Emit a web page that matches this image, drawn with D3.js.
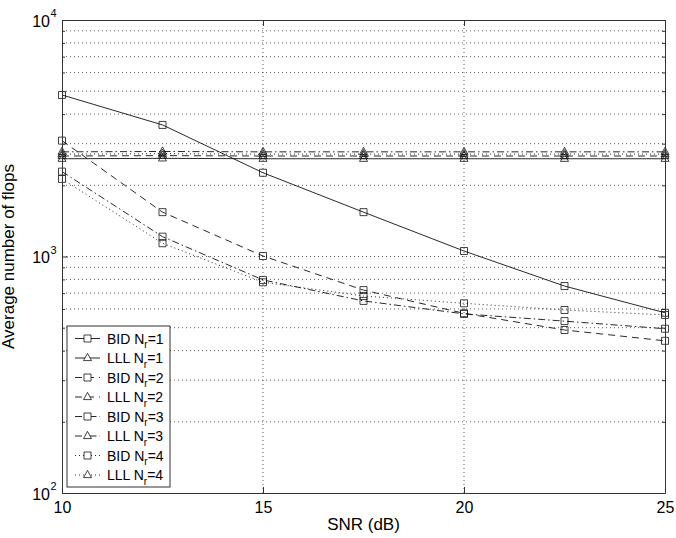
<!DOCTYPE html>
<html>
<head>
<meta charset="utf-8">
<script src="https://cdn.jsdelivr.net/npm/d3@7"></script>
<style>
  html, body { margin: 0; padding: 0; background: #fff; }
  svg { display: block; font-family: "Liberation Sans", Arial, Helvetica, sans-serif; }
</style>
</head>
<body>
<svg id="chart" width="676" height="538"></svg>
<script>
// SNR sample points (dB)
const snr = [10, 12.5, 15, 17.5, 20, 22.5, 25];

// Average flop counts per detector and receive-antenna count
const bid1 = [4820, 3600, 2260, 1540, 1055, 750, 578];
const lll1 = [2590, 2600, 2590, 2590, 2590, 2590, 2590];
const bid2 = [3090, 1540, 1005, 721, 575, 489, 440];
const lll2 = [2660, 2670, 2660, 2660, 2660, 2660, 2660];
const bid3 = [2285, 1213, 796, 649, 572, 533, 495];
const lll3 = [2770, 2780, 2770, 2770, 2770, 2770, 2770];
const bid4 = [2128, 1138, 778, 681, 634, 594, 566];
const lll4 = [2710, 2720, 2710, 2710, 2710, 2710, 2710];

// Axis ticks
const xTicks = [10, 15, 20, 25];
const xTickLabels = ["10", "15", "20", "25"];
const yTicks = [100, 1000, 10000];
const yTickExp = ["2", "3", "4"];
const yMinor = [200, 300, 400, 500, 600, 700, 800, 900, 2000, 3000, 4000, 5000, 6000, 7000, 8000, 9000];

const seriesNames = ["BID", "LLL", "BID", "LLL", "BID", "LLL", "BID", "LLL"];
const seriesNr = ["1", "1", "2", "2", "3", "3", "4", "4"];
const seriesValues = [bid1, lll1, bid2, lll2, bid3, lll3, bid4, lll4];

const xLabel = "SNR (dB)";
const yLabel = "Average number of flops";

// Layout
const W = 676, H = 538;
const plot = { left: 62, right: 665, top: 20, bottom: 493 };
const dashes = ["none", "7,5", "7,3,1.5,3", "1,3"];
const markerOf = i => (i % 2 === 0 ? "square" : "triangle");
const dashOf = i => dashes[Math.floor(i / 2)];

const svg = d3.select("#chart");

const x = d3.scaleLinear().domain([10, 25]).range([plot.left, plot.right]);
const y = d3.scaleLog().domain([100, 10000]).range([plot.bottom, plot.top]);

// Dotted grid
const grid = svg.append("g").attr("stroke", "#333").attr("stroke-width", 0.8)
  .attr("stroke-dasharray", "1,3");
grid.selectAll("line.gy").data(yMinor.concat([1000])).join("line")
  .attr("x1", plot.left).attr("x2", plot.right)
  .attr("y1", d => y(d)).attr("y2", d => y(d));
grid.selectAll("line.gx").data(xTicks.slice(1, -1)).join("line")
  .attr("y1", plot.top).attr("y2", plot.bottom)
  .attr("x1", d => x(d)).attr("x2", d => x(d));

// Series lines and markers
const line = d3.line().x((d, i) => x(snr[i])).y(d => y(d));
const series = svg.append("g");
seriesValues.forEach((vals, i) => {
  const g = series.append("g");
  g.append("path").datum(vals)
    .attr("d", line)
    .attr("fill", "none")
    .attr("stroke", "#111")
    .attr("stroke-width", 0.9)
    .attr("stroke-dasharray", dashOf(i));
  const pts = g.selectAll("path.m").data(vals).join("path")
    .attr("class", "m")
    .attr("transform", (d, j) => `translate(${x(snr[j])},${y(d)})`)
    .attr("fill", "none").attr("stroke", "#111").attr("stroke-width", 0.8);
  if (markerOf(i) === "square") pts.attr("d", "M-3.5,-3.5H3.5V3.5H-3.5Z");
  else pts.attr("d", "M0,-4.6L4,2.6H-4Z");
});

// Axes with inward ticks
const axisColor = "#333";
function styleAxis(g) {
  g.select(".domain").attr("stroke", axisColor).attr("stroke-width", 1);
  g.selectAll(".tick line").attr("stroke", axisColor).attr("stroke-width", 1);
}

const xAxis = svg.append("g").attr("transform", `translate(0,${plot.bottom})`)
  .call(d3.axisBottom(x).tickValues(xTicks).tickSizeInner(-6).tickSizeOuter(0)
    .tickPadding(9).tickFormat((d, i) => xTickLabels[i]))
  .call(styleAxis);
xAxis.selectAll("text").attr("font-size", 16).attr("fill", "#000")
  .attr("font-family", "Liberation Sans, Arial, sans-serif");

svg.append("g").attr("transform", `translate(0,${plot.top})`)
  .call(d3.axisTop(x).tickValues(xTicks).tickSizeInner(-6).tickSizeOuter(0).tickFormat(""))
  .call(styleAxis);

svg.append("g").attr("transform", `translate(${plot.left},0)`)
  .call(d3.axisLeft(y).tickValues(yTicks).tickSizeInner(-6).tickSizeOuter(0).tickFormat(""))
  .call(styleAxis);
svg.append("g").attr("transform", `translate(${plot.left},0)`)
  .call(d3.axisLeft(y).tickValues(yMinor).tickSizeInner(-3).tickSizeOuter(0).tickFormat(""))
  .call(styleAxis);
svg.append("g").attr("transform", `translate(${plot.right},0)`)
  .call(d3.axisRight(y).tickValues(yTicks).tickSizeInner(-6).tickSizeOuter(0).tickFormat(""))
  .call(styleAxis);
svg.append("g").attr("transform", `translate(${plot.right},0)`)
  .call(d3.axisRight(y).tickValues(yMinor).tickSizeInner(-3).tickSizeOuter(0).tickFormat(""))
  .call(styleAxis);

// Power-of-ten labels on the y axis
const yl = svg.append("g").attr("fill", "#000");
yTicks.forEach((v, i) => {
  yl.append("text")
    .attr("x", plot.left - 12).attr("y", y(v) + 6.5)
    .attr("text-anchor", "end").attr("font-size", 16).text("10");
  yl.append("text")
    .attr("x", plot.left - 11.5).attr("y", y(v) - 3)
    .attr("font-size", 11).text(yTickExp[i]);
});

// Axis titles
svg.append("text").attr("x", (plot.left + plot.right) / 2).attr("y", 530)
  .attr("text-anchor", "middle").attr("font-size", 17).text(xLabel);
svg.append("text")
  .attr("transform", `translate(14,${(plot.top + plot.bottom) / 2}) rotate(-90)`)
  .attr("text-anchor", "middle").attr("font-size", 17).text(yLabel);

// Legend
const lg = { x: 67, y: 326, w: 103, h: 161, row: 19.5 };
const legend = svg.append("g");
legend.append("rect")
  .attr("x", lg.x).attr("y", lg.y).attr("width", lg.w).attr("height", lg.h)
  .attr("fill", "#fff").attr("stroke", "#333").attr("stroke-width", 1);
seriesNames.forEach((name, i) => {
  const cy = lg.y + 12.5 + i * lg.row;
  const row = legend.append("g");
  row.append("line").attr("x1", lg.x + 8).attr("x2", lg.x + 33)
    .attr("y1", cy).attr("y2", cy)
    .attr("stroke", "#111").attr("stroke-width", 0.9)
    .attr("stroke-dasharray", dashOf(i));
  row.append("path")
    .attr("transform", `translate(${lg.x + 20.5},${cy})`)
    .attr("d", markerOf(i) === "square" ? "M-3.5,-3.5H3.5V3.5H-3.5Z" : "M0,-4.6L4,2.6H-4Z")
    .attr("fill", "#fff").attr("stroke", "#111").attr("stroke-width", 0.8);
  const t = row.append("text").attr("x", lg.x + 40).attr("y", cy + 5)
    .attr("font-size", 14).attr("fill", "#000");
  t.append("tspan").text(name + " N");
  t.append("tspan").attr("dy", 4.5).attr("font-size", 10).text("r");
  t.append("tspan").attr("dy", -4.5).text("=" + seriesNr[i]);
});
</script>
</body>
</html>
